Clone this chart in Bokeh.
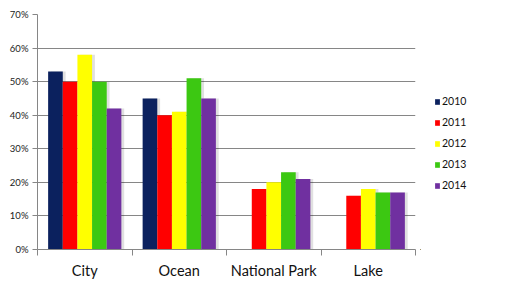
from bokeh.plotting import figure
from bokeh.layouts import row
from bokeh.models import (ColumnDataSource, Range1d, FixedTicker, Legend, LegendItem,
                          NumeralTickFormatter)
from bokeh.transform import dodge
from bokeh.embed import file_html
from bokeh.resources import INLINE

categories = ["City", "Ocean", "National Park", "Lake"]
years = ["2010", "2011", "2012", "2013", "2014"]
v2010 = [0.53, 0.45, 0.0, 0.0]
v2011 = [0.50, 0.40, 0.18, 0.16]
v2012 = [0.58, 0.41, 0.20, 0.18]
v2013 = [0.50, 0.51, 0.23, 0.17]
v2014 = [0.42, 0.45, 0.21, 0.17]
colors = ["#0b215e", "#ff0000", "#ffff00", "#3cc812", "#7030a0"]

series = [v2010, v2011, v2012, v2013, v2014]
xs = [i + 0.5 for i in range(len(categories))]
data = {"x": xs}
for y, s in zip(years, series):
    data[y] = s
src = ColumnDataSource(data)

FONT = "Lato"
p = figure(width=420, height=288, output_backend="svg", toolbar_location=None,
           x_range=Range1d(0, 4), y_range=Range1d(0, 0.7),
           min_border_left=37, min_border_right=5, min_border_top=14, min_border_bottom=39)
p.outline_line_color = None
p.background_fill_color = "white"
p.border_fill_color = "white"

bw = 0.155
offsets = [-2 * bw, -bw, 0, bw, 2 * bw]
# soft shadows
for y, off in zip(years, offsets):
    p.vbar(x=dodge("x", off + 0.03, range=p.x_range), top=y, width=bw, source=src,
           fill_color="#000000", fill_alpha=0.12, line_color=None)
for y, off, c in zip(years, offsets, colors):
    p.vbar(x=dodge("x", off, range=p.x_range), top=y, width=bw, source=src,
           fill_color=c, line_color=None)

# y axis
p.yaxis.ticker = FixedTicker(ticks=[i / 10 for i in range(8)])
p.yaxis.formatter = NumeralTickFormatter(format="0%")
p.yaxis.axis_line_color = "#868686"
p.yaxis.major_tick_line_color = "#868686"
p.yaxis.major_tick_out = 5
p.yaxis.major_tick_in = 0
p.yaxis.minor_tick_line_color = None
p.yaxis.major_label_text_font = FONT
p.yaxis.major_label_text_font_size = "9.5px"
p.yaxis.major_label_text_color = "#222222"
p.yaxis.major_label_standoff = 4

# x axis
p.xaxis.ticker = FixedTicker(ticks=xs, minor_ticks=[0, 1, 2, 3, 4])
p.xaxis.major_label_overrides = {x: c for x, c in zip(xs, categories)}
p.xaxis.major_tick_line_color = None
p.xaxis.minor_tick_line_color = "#868686"
p.xaxis.minor_tick_out = 6
p.xaxis.minor_tick_in = 0
p.xaxis.axis_line_color = "#868686"
p.xaxis.major_label_text_font = FONT
p.xaxis.major_label_text_font_size = "14.5px"
p.xaxis.major_label_text_color = "#111111"
p.xaxis.major_label_standoff = 6

p.xgrid.grid_line_color = None
p.ygrid.ticker = FixedTicker(ticks=[i / 10 for i in range(1, 8)])
p.ygrid.grid_line_color = "#868686"
p.ygrid.grid_line_width = 1

# legend panel (separate figure, swatches from renderers kept out of view)
lg = figure(width=85, height=288, output_backend="svg", toolbar_location=None,
            x_range=Range1d(100, 101), y_range=Range1d(100, 101),
            x_axis_type=None, y_axis_type=None,
            min_border_left=0, min_border_right=0, min_border_top=0, min_border_bottom=0)
lg.outline_line_color = None
lg.xgrid.grid_line_color = None
lg.ygrid.grid_line_color = None
items = []
for y, c in zip(years, colors):
    r = lg.vbar(x="x", top=y, width=bw, source=src, fill_color=c, line_color=None)
    items.append(LegendItem(label=y, renderers=[r]))

legend = Legend(items=items, location=(14, 58), orientation="vertical",
                glyph_width=6, glyph_height=7, label_height=12, spacing=9,
                padding=0, margin=0, border_line_color=None, background_fill_alpha=0,
                label_text_font=FONT, label_text_font_size="10.5px",
                label_standoff=2, label_text_color="#111111")
lg.add_layout(legend, "center")

layout = row(p, lg, spacing=0)
open("out.html", "w").write(file_html(layout, INLINE))
